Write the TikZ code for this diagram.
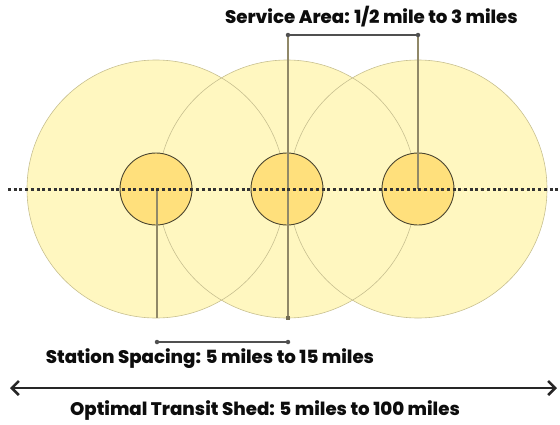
\documentclass[tikz,border=0pt]{standalone}
\usepackage{fontspec}
\setmainfont{Poppins}[UprightFont=* ExtraBold,BoldFont=* Black]
\usetikzlibrary{arrows.meta}
\definecolor{bigfill}{HTML}{FFF7C0}
\definecolor{bigline}{HTML}{C8C090}
\definecolor{smallfill}{HTML}{FFE07C}
\definecolor{smallline}{HTML}{4A4530}
\definecolor{barcol}{HTML}{505050}
\definecolor{vline}{HTML}{908868}
\tikzset{
  bigc/.style={circle, minimum size=258pt, inner sep=0pt, fill=bigfill},
  bigo/.style={circle, minimum size=258pt, inner sep=0pt, draw=bigline, line width=0.6pt},
  smallc/.style={circle, minimum size=72pt, inner sep=0pt, fill=smallfill, draw=smallline, line width=0.9pt},
  axis/.style={draw=black!80, line width=3pt, dash pattern=on 3pt off 2.7pt},
  stationline/.style={draw=vline, line width=1.1pt},
  bar/.style={draw=barcol, line width=2.2pt},
  enddot/.style={circle, fill=barcol, inner sep=0pt, minimum size=4.5pt},
  lbl/.style={font=\fontsize{18.2}{21}\selectfont, text=black!95, inner sep=0pt},
  shed/.style={draw=black!85, line width=2.6pt, {Straight Barb[length=7pt,width=14pt,line width=2.6pt]}-{Straight Barb[length=7pt,width=14pt,line width=2.6pt]}}
}
\begin{document}
\begin{tikzpicture}[x=1pt,y=-1pt]
\useasboundingbox (0,0) rectangle (560,424);
% big service-area circles
\node[bigc] (b1) at (156,189) {};
\node[bigc] (b2) at (287,189) {};
\node[bigc] (b3) at (418,189) {};
\node[bigo] (o1) at (156,189) {};
\node[bigo] (o2) at (287,189) {};
\node[bigo] (o3) at (418,189) {};
% small station circles
\node[smallc] (s1) at (156,189) {};
\node[smallc] (s2) at (287,189) {};
\node[smallc] (s3) at (418,189) {};
% guide coordinates
\coordinate (btm1) at (157,318);
\coordinate (btm2) at (288,318);
\coordinate (top2) at (288,35);
\coordinate (top3) at (418,35);
\coordinate (ctr3) at (418,189);
\coordinate (ctr1) at (157,189);
% vertical guide lines
\draw[stationline] (ctr1) -- (btm1);
\draw[stationline] (top2) -- (btm2);
\draw[stationline] (top3) -- (ctr3);
\node[enddot, fill=vline!80!black, rectangle, minimum size=3.5pt] (bd) at (btm2) {};
% dotted axis
\coordinate (axl) at (8,189);
\coordinate (axr) at (560,189);
\draw[axis] (axl) -- (axr);
% service area bar
\node[enddot] (sa1) at (288,35) {};
\node[enddot] (sa2) at (418,35) {};
\draw[bar] (sa1) -- (sa2);
\node[lbl, anchor=east] (satext) at (518,17) {Service Area: 1/2 mile to 3 miles};
% station spacing bar
\node[enddot] (ss1) at (157,342) {};
\node[enddot] (ss2) at (288,342) {};
\draw[bar] (ss1) -- (ss2);
\node[lbl] (sstext) at (210,359) {Station Spacing: 5 miles to 15 miles};
% optimal transit shed arrow
\coordinate (shl) at (10,388);
\coordinate (shr) at (557,388);
\draw[shed] (shl) -- (shr);
\node[lbl] (shtext) at (265,411) {Optimal Transit Shed: 5 miles to 100 miles};
\end{tikzpicture}
\end{document}
